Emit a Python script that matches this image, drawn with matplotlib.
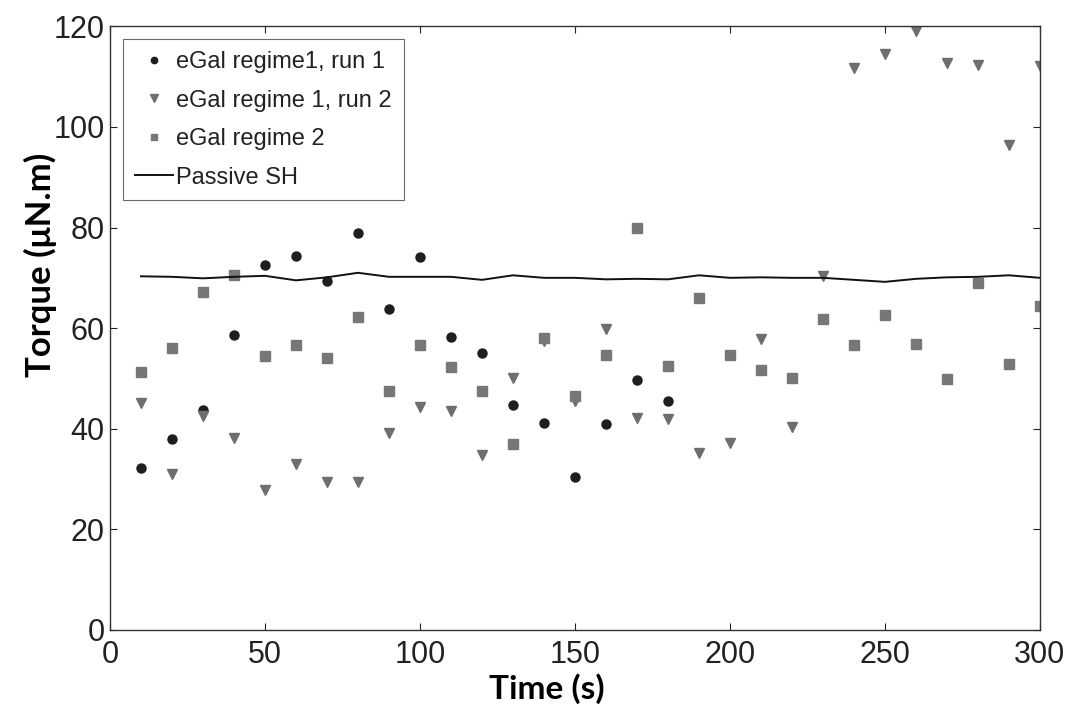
import numpy as np
import matplotlib
matplotlib.use("Agg")
import matplotlib.pyplot as plt

# Sample times (s)
time_s = [10, 20, 30, 40, 50, 60, 70, 80, 90, 100, 110, 120, 130, 140, 150,
          160, 170, 180, 190, 200, 210, 220, 230, 240, 250, 260, 270, 280, 290, 300]

# eGal regime 1, run 1 (recorded up to 180 s)
run1_time = [10, 20, 30, 40, 50, 60, 70, 80, 90, 100, 110, 120, 130, 140, 150,
             160, 170, 180]
run1_torque = [32.1, 38.0, 43.7, 58.6, 72.6, 74.4, 69.4, 78.9, 63.9, 74.2, 58.3,
               55.1, 44.7, 41.2, 30.5, 41.0, 49.7, 45.5]

# eGal regime 1, run 2
run2_torque = [45.2, 31.0, 42.5, 38.2, 27.9, 32.9, 29.5, 29.5, 39.2, 44.4, 43.5,
               34.7, 50.1, 57.5, 45.5, 59.8, 42.2, 42.0, 35.2, 37.2, 57.8, 40.4,
               70.3, 111.8, 114.4, 119.0, 112.7, 112.4, 96.5, 112.1]

# eGal regime 2
reg2_torque = [51.3, 56.0, 67.2, 70.5, 54.4, 56.6, 54.1, 62.2, 47.6, 56.6, 52.3,
               47.5, 36.9, 58.1, 46.5, 54.6, 79.9, 52.4, 65.9, 54.6, 51.6, 50.1,
               61.9, 56.6, 62.7, 56.8, 49.8, 68.9, 52.8, 64.3]

# Passive SH reference torque
passive_torque = [70.3, 70.2, 69.9, 70.2, 70.4, 69.5, 70.1, 71.0, 70.2, 70.2, 70.2,
                  69.6, 70.5, 70.0, 70.0, 69.7, 69.8, 69.7, 70.5, 70.0, 70.1, 70.0,
                  70.0, 69.6, 69.2, 69.8, 70.1, 70.2, 70.5, 70.0]

x_ticks = [0, 50, 100, 150, 200, 250, 300]
y_ticks = [0, 20, 40, 60, 80, 100, 120]

fig = plt.figure(figsize=(10.73, 7.11), dpi=100)
ax = fig.add_axes([0.1025, 0.114, 0.8667, 0.849])

ax.plot(run1_time, run1_torque, linestyle="none", marker="o", markersize=6.5,
        color="#1e1e1e", label="eGal regime1, run 1")
ax.plot(time_s, run2_torque, linestyle="none", marker="v", markersize=7.5,
        color="#6e6e6e", label="eGal regime 1, run 2")
ax.plot(time_s, reg2_torque, linestyle="none", marker="s", markersize=7,
        color="#777777", label="eGal regime 2")
ax.plot(time_s, passive_torque, color="#111111", linewidth=1.4,
        label="Passive SH")

ax.set_xlim(0, 300)
ax.set_ylim(0, 120)
ax.set_xticks(x_ticks)
ax.set_yticks(y_ticks)

tick_font = {"family": "Liberation Sans", "size": 22}
ax.set_xticklabels([str(v) for v in x_ticks], fontdict=tick_font)
ax.set_yticklabels([str(v) for v in y_ticks], fontdict=tick_font)
ax.tick_params(axis="x", direction="in", length=5, width=0.8, top=True,
               pad=7, colors="#222222")
ax.tick_params(axis="y", direction="in", length=5, width=0.8, right=True,
               pad=4, colors="#222222")
for spine in ax.spines.values():
    spine.set_linewidth(1.0)
    spine.set_color("#333333")

# Axis titles, centred at fixed axes-fraction positions
ax.set_xlabel("Time (s)", family="Lato", fontweight="bold", fontsize=24,
              va="center", ha="center")
ax.xaxis.set_label_coords(0.47, -0.098)
ax.set_ylabel("Torque (\u03bcN.m)", family="Lato", fontweight="bold",
              fontsize=25, va="center", ha="center")
ax.yaxis.set_label_coords(-0.075, 0.605)

leg = ax.legend(loc="upper left", prop={"family": "Liberation Sans", "size": 17},
                frameon=True, fancybox=False, edgecolor="#444444",
                handlelength=1.6, handletextpad=0.15, borderpad=0.5,
                labelspacing=0.7, borderaxespad=0.55, markerscale=0.7)
leg.get_frame().set_linewidth(0.8)
for t in leg.get_texts():
    t.set_color("#222222")

fig.savefig("out.png", dpi=100)
